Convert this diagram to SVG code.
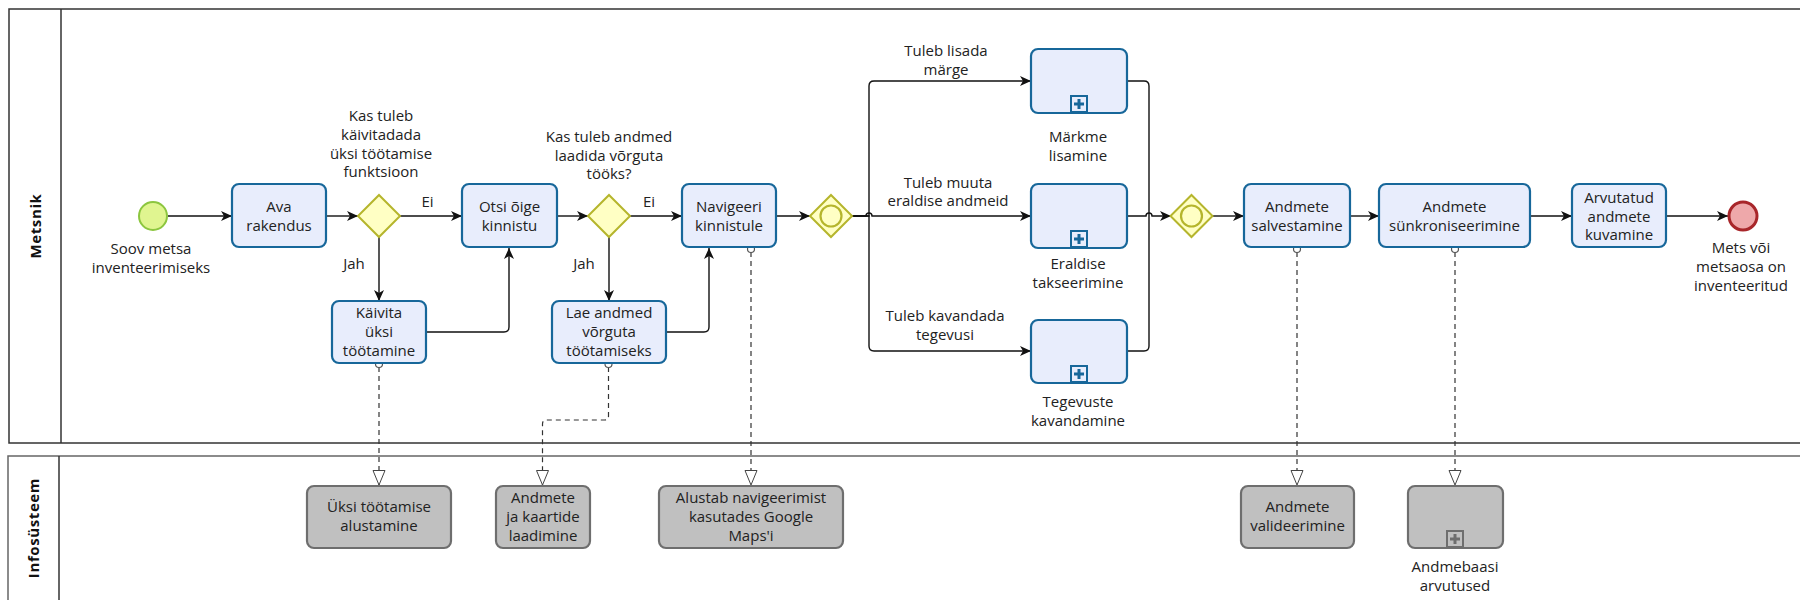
<svg xmlns="http://www.w3.org/2000/svg" width="1800" height="600" viewBox="0 0 1800 600">
<style>
text{font-family:"Open Sans","Liberation Sans",sans-serif;font-size:15px;fill:#222;text-anchor:middle}
.lane{font-weight:bold;font-size:15px;letter-spacing:0.6px;fill:#111}
.task{fill:#e8edfc;stroke:#17679a;stroke-width:2.2}
.sys{fill:#c0c0c0;stroke:#6e6e6e;stroke-width:2.2}
.gw{fill:#ffffc4;stroke:#b5b52c;stroke-width:2}
.flow{fill:none;stroke:#111;stroke-width:1.4;marker-end:url(#arr)}
.line{fill:none;stroke:#111;stroke-width:1.4}
.assoc{fill:none;stroke:#333;stroke-width:1.2;stroke-dasharray:5,4;marker-end:url(#tri)}
.src{fill:#fff;stroke:#555;stroke-width:1.2}
.pm{fill:#e8edfc;stroke:#17679a;stroke-width:2}
.pmx{fill:#17679a}
</style>
<defs>
<marker id="arr" markerUnits="userSpaceOnUse" markerWidth="12" markerHeight="12" refX="11" refY="5" orient="auto"><path d="M0,0 L11,5 L0,10 L3,5 z" fill="#111"/></marker>
<marker id="tri" markerUnits="userSpaceOnUse" markerWidth="17" markerHeight="15" refX="15" refY="6.5" orient="auto"><path d="M0.5,0.5 L15,6.5 L0.5,12.5 z" fill="#fff" stroke="#444" stroke-width="1"/></marker>
</defs>

<g id="pool-metsnik">
<rect x="9" y="9" width="1800" height="434" fill="#fff" stroke="#333" stroke-width="1.5"/>
<line x1="61" y1="9" x2="61" y2="443" stroke="#333" stroke-width="1.5"/>
<text class="lane" transform="translate(41,226) rotate(-90)">Metsnik</text>
</g>
<g id="pool-infosusteem">
<rect x="8" y="456" width="1800" height="160" fill="#fff" stroke="#666" stroke-width="1.5"/>
<line x1="59" y1="456" x2="59" y2="600" stroke="#333" stroke-width="1.5"/>
<text class="lane" transform="translate(39,528) rotate(-90)">Infosüsteem</text>
</g>

<g id="connectors">
<path class="flow" d="M168,216 H232"/>
<path class="flow" d="M326,216 H358"/>
<path class="flow" d="M400,216 H462"/>
<path class="flow" d="M379,237 V301"/>
<path class="flow" d="M426,332 H504 Q509,332 509,327 V248"/>
<path class="flow" d="M557,216 H588"/>
<path class="flow" d="M630,216 H682"/>
<path class="flow" d="M609,237 V301"/>
<path class="flow" d="M666,332 H704 Q709,332 709,327 V248"/>
<path class="flow" d="M776,216 H810"/>
<path class="flow" d="M852,216 H869 V86 Q869,81 874,81 H1031"/>
<path class="flow" d="M852,216 H866 A3,3 0 0 1 872,216 H1031"/>
<path class="flow" d="M852,216 H869 V346 Q869,351 874,351 H1031"/>
<path class="line" d="M1127,81 H1144 Q1149,81 1149,86 V216"/>
<path class="line" d="M1127,351 H1144 Q1149,351 1149,346 V216"/>
<path class="flow" d="M1127,216 H1146 A3,3 0 0 1 1152,216 H1171"/>
<path class="flow" d="M1212,216 H1244"/>
<path class="flow" d="M1350,216 H1379"/>
<path class="flow" d="M1530,216 H1572"/>
<path class="flow" d="M1666,216 H1728"/>
<path class="assoc" d="M379,367 V485"/>
<path class="assoc" d="M608.5,367 V416 Q608.5,420 604.5,420 H546.5 Q542.5,420 542.5,424 V485"/>
<path class="assoc" d="M751,252 V485"/>
<path class="assoc" d="M1297,252 V485"/>
<path class="assoc" d="M1455,252 V485"/>
<circle class="src" cx="379" cy="364" r="3.5"/>
<circle class="src" cx="608.5" cy="364" r="3.5"/>
<circle class="src" cx="751" cy="249" r="3.5"/>
<circle class="src" cx="1297" cy="249" r="3.5"/>
<circle class="src" cx="1455" cy="249" r="3.5"/>
<text x="427.5" y="207">Ei</text>
<text x="354" y="269">Jah</text>
<text x="649" y="207">Ei</text>
<text x="584" y="269">Jah</text>
<text x="946" y="56">Tuleb lisada</text>
<text x="946" y="75">märge</text>
<text x="948" y="188">Tuleb muuta</text>
<text x="948" y="206">eraldise andmeid</text>
<text x="945" y="321">Tuleb kavandada</text>
<text x="945" y="340">tegevusi</text>
</g>

<g id="start">
<circle cx="153" cy="216" r="14" fill="#e0f590" stroke="#8cc63f" stroke-width="2"/>
<text x="151" y="254">Soov metsa</text>
<text x="151" y="273">inventeerimiseks</text>
</g>
<g id="ava-rakendus">
<rect class="task" x="232" y="184" width="94" height="63" rx="7"/>
<text x="279" y="212">Ava</text>
<text x="279" y="231">rakendus</text>
</g>
<g id="gw1">
<path class="gw" d="M379,195 L400,216 L379,237 L358,216 z"/>
<text x="381" y="121">Kas tuleb</text>
<text x="381" y="140">käivitadada</text>
<text x="381" y="159">üksi töötamise</text>
<text x="381" y="177">funktsioon</text>
</g>
<g id="kaivita">
<rect class="task" x="332" y="301" width="94" height="62" rx="7"/>
<text x="379" y="318">Käivita</text>
<text x="379" y="337">üksi</text>
<text x="379" y="356">töötamine</text>
</g>
<g id="otsi">
<rect class="task" x="462" y="184" width="95" height="63" rx="7"/>
<text x="509.5" y="212">Otsi õige</text>
<text x="509.5" y="231">kinnistu</text>
</g>
<g id="gw2">
<path class="gw" d="M609,195 L630,216 L609,237 L588,216 z"/>
<text x="609" y="142">Kas tuleb andmed</text>
<text x="609" y="161">laadida võrguta</text>
<text x="609" y="179">tööks?</text>
</g>
<g id="lae">
<rect class="task" x="552" y="301" width="114" height="62" rx="7"/>
<text x="609" y="318">Lae andmed</text>
<text x="609" y="337">võrguta</text>
<text x="609" y="356">töötamiseks</text>
</g>
<g id="navigeeri">
<rect class="task" x="682" y="184" width="94" height="63" rx="7"/>
<text x="729" y="212">Navigeeri</text>
<text x="729" y="231">kinnistule</text>
</g>
<g id="gw3">
<path class="gw" d="M831,195 L852,216 L831,237 L810,216 z"/>
<circle cx="831" cy="216" r="10.5" fill="none" stroke="#b5b52c" stroke-width="2.2"/>
</g>
<g id="markme">
<rect class="task" x="1031" y="49" width="96" height="64" rx="7"/>
<rect class="pm" x="1071" y="96" width="16" height="16"/>
<path class="pmx" d="M1077.5,99 h3 v3.5 h3.5 v3 h-3.5 v3.5 h-3 v-3.5 h-3.5 v-3 h3.5 z"/>
<text x="1078" y="142">Märkme</text>
<text x="1078" y="161">lisamine</text>
</g>
<g id="eraldise">
<rect class="task" x="1031" y="184" width="96" height="64" rx="7"/>
<rect class="pm" x="1071" y="231" width="16" height="16"/>
<path class="pmx" d="M1077.5,234 h3 v3.5 h3.5 v3 h-3.5 v3.5 h-3 v-3.5 h-3.5 v-3 h3.5 z"/>
<text x="1078" y="269">Eraldise</text>
<text x="1078" y="288">takseerimine</text>
</g>
<g id="tegevuste">
<rect class="task" x="1031" y="320" width="96" height="63" rx="7"/>
<rect class="pm" x="1071" y="366" width="16" height="16"/>
<path class="pmx" d="M1077.5,369 h3 v3.5 h3.5 v3 h-3.5 v3.5 h-3 v-3.5 h-3.5 v-3 h3.5 z"/>
<text x="1078" y="407">Tegevuste</text>
<text x="1078" y="426">kavandamine</text>
</g>
<g id="gw4">
<path class="gw" d="M1191.5,195 L1212.5,216 L1191.5,237 L1170.5,216 z"/>
<circle cx="1191.5" cy="216" r="10.5" fill="none" stroke="#b5b52c" stroke-width="2.2"/>
</g>
<g id="salvestamine">
<rect class="task" x="1244" y="184" width="106" height="63" rx="7"/>
<text x="1297" y="212">Andmete</text>
<text x="1297" y="231">salvestamine</text>
</g>
<g id="synkroniseerimine">
<rect class="task" x="1379" y="184" width="151" height="63" rx="7"/>
<text x="1454.5" y="212">Andmete</text>
<text x="1454.5" y="231">sünkroniseerimine</text>
</g>
<g id="arvutatud">
<rect class="task" x="1572" y="184" width="94" height="63" rx="7"/>
<text x="1619" y="203">Arvutatud</text>
<text x="1619" y="222">andmete</text>
<text x="1619" y="240">kuvamine</text>
</g>
<g id="end">
<circle cx="1743" cy="216" r="14" fill="#eea8aa" stroke="#a8262a" stroke-width="3"/>
<text x="1741" y="253">Mets või</text>
<text x="1741" y="272">metsaosa on</text>
<text x="1741" y="291">inventeeritud</text>
</g>

<g id="uksi-alustamine">
<rect class="sys" x="307" y="486" width="144" height="62" rx="7"/>
<text x="379" y="512">Üksi töötamise</text>
<text x="379" y="531">alustamine</text>
</g>
<g id="andmete-laadimine">
<rect class="sys" x="496" y="486" width="94" height="62" rx="7"/>
<text x="543" y="503">Andmete</text>
<text x="543" y="522">ja kaartide</text>
<text x="543" y="541">laadimine</text>
</g>
<g id="alustab">
<rect class="sys" x="659" y="486" width="184" height="62" rx="7"/>
<text x="751" y="503">Alustab navigeerimist</text>
<text x="751" y="522">kasutades Google</text>
<text x="751" y="541">Maps'i</text>
</g>
<g id="valideerimine">
<rect class="sys" x="1241" y="486" width="113" height="62" rx="7"/>
<text x="1297.5" y="512">Andmete</text>
<text x="1297.5" y="531">valideerimine</text>
</g>
<g id="andmebaasi">
<rect class="sys" x="1408" y="486" width="95" height="62" rx="7"/>
<rect x="1447" y="531" width="16" height="16" fill="#c0c0c0" stroke="#6e6e6e" stroke-width="2"/>
<path d="M1453.5,534 h3 v3.5 h3.5 v3 h-3.5 v3.5 h-3 v-3.5 h-3.5 v-3 h3.5 z" fill="#6e6e6e"/>
<text x="1455" y="572">Andmebaasi</text>
<text x="1455" y="591">arvutused</text>
</g>
</svg>
